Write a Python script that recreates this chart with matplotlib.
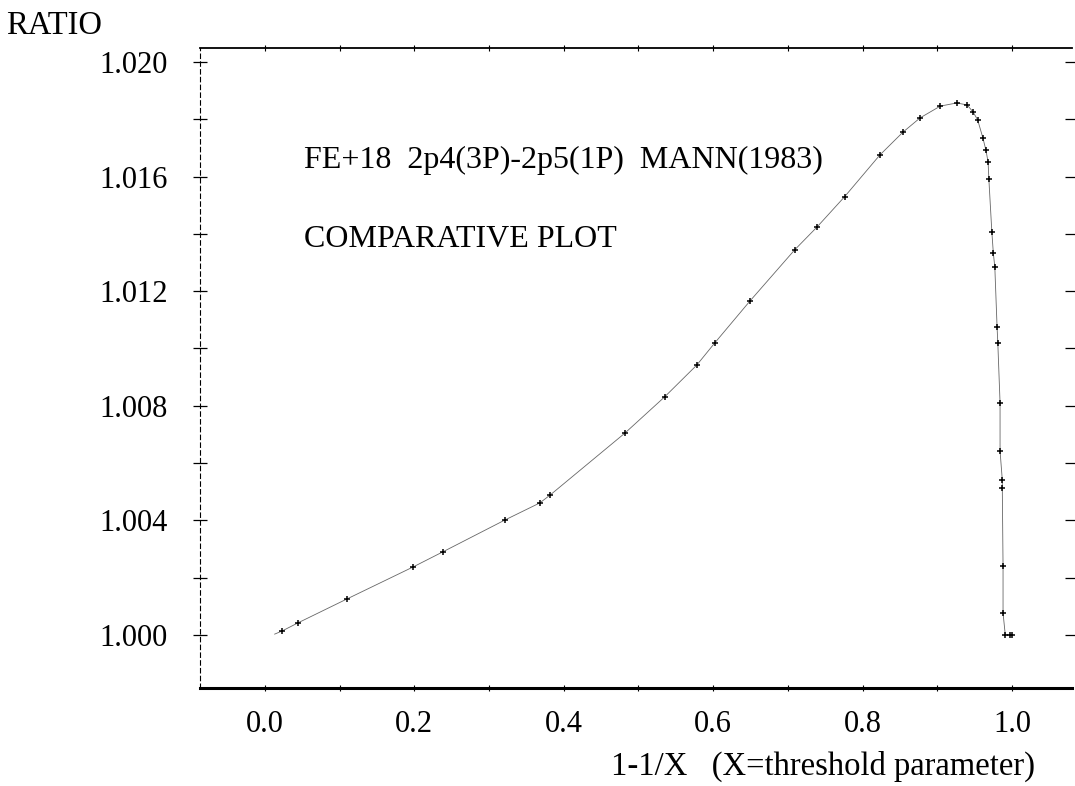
import matplotlib
matplotlib.use("Agg")
import matplotlib.pyplot as plt
import numpy as np
from matplotlib.ticker import MultipleLocator, FormatStrFormatter

plt.rcParams['font.family'] = ['Liberation Serif', 'DejaVu Serif']

# ratio curve, x = 1-1/X
x_vals = [0.013, 0.023, 0.044, 0.110, 0.198, 0.238, 0.321, 0.368, 0.382,
          0.482, 0.535, 0.578, 0.602, 0.649, 0.709, 0.739, 0.776, 0.823,
          0.854, 0.877, 0.904, 0.926, 0.940, 0.948, 0.954, 0.961, 0.965,
          0.968, 0.969, 0.973, 0.975, 0.977, 0.980, 0.981, 0.984, 0.984,
          0.987, 0.987, 0.988, 0.988, 0.991, 0.997, 1.000]
ratio = [1.00003, 1.00014, 1.00042, 1.00126, 1.00237, 1.00290, 1.00401,
         1.00461, 1.00489, 1.00705, 1.00831, 1.00942, 1.01019, 1.01165,
         1.01344, 1.01424, 1.01530, 1.01675, 1.01755, 1.01805, 1.01846,
         1.01857, 1.01850, 1.01825, 1.01798, 1.01735, 1.01693, 1.01651,
         1.01592, 1.01407, 1.01333, 1.01284, 1.01075, 1.01019, 1.00810,
         1.00642, 1.00541, 1.00513, 1.00241, 1.00077, 1.00000, 1.00000,
         1.00000]

fig = plt.figure(figsize=(10.75, 7.86), dpi=100)
ax = fig.add_axes([0.186, 0.1247, 0.811, 0.8143])

ax.plot(x_vals, ratio, '-', color='#666666', lw=0.6)
ax.plot(x_vals[1:], ratio[1:], '+', color='k', ms=5, mew=1.1)

ax.set_xlim(-0.087, 1.080)
ax.set_ylim(0.99815, 1.02049)

ax.xaxis.set_major_locator(MultipleLocator(0.2))
ax.xaxis.set_minor_locator(MultipleLocator(0.1))
ax.xaxis.set_major_formatter(FormatStrFormatter('%.1f'))
ax.yaxis.set_major_locator(MultipleLocator(0.004))
ax.yaxis.set_minor_locator(MultipleLocator(0.002))
ax.yaxis.set_major_formatter(FormatStrFormatter('%.3f'))

ax.tick_params(axis='y', which='both', direction='inout', length=10,
               width=0.9, labelsize=22, pad=18, left=True, right=True)
ax.tick_params(axis='x', which='both', direction='inout', length=5,
               width=0.8, labelsize=22, pad=13, top=True, bottom=True)

ax.spines['right'].set_visible(False)
ax.spines['left'].set_linestyle((0, (4, 3)))
ax.spines['left'].set_linewidth(0.8)
ax.spines['top'].set_linewidth(1.3)
ax.spines['bottom'].set_linewidth(2.2)

ax.text(0.052, 1.01655, 'FE+18  2p4(3P)-2p5(1P)  MANN(1983)', fontsize=23,
        va='center', ha='left')
ax.text(0.052, 1.0138, 'COMPARATIVE PLOT', fontsize=23, va='center', ha='left')

fig.text(6 / 1075, 1 - 26 / 786, 'RATIO', fontsize=23.5, va='center', ha='left')
fig.text(1035 / 1075, 1 - 766 / 786, '1-1/X   (X=threshold parameter)',
         fontsize=23.5, va='center', ha='right')

fig.savefig('out.png', dpi=100)
